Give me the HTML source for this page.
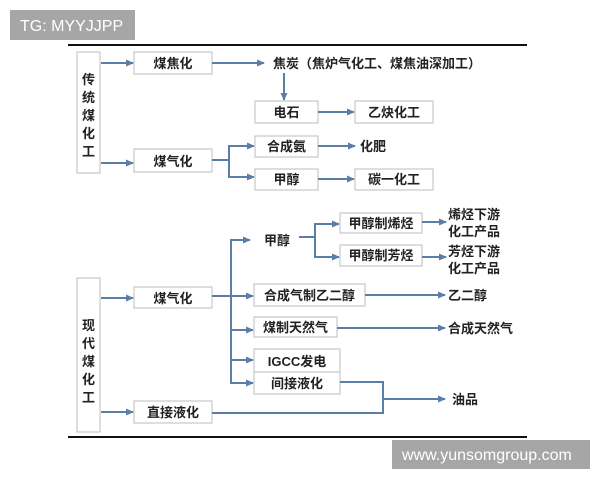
<!DOCTYPE html>
<html><head><meta charset="utf-8"><style>
html,body{margin:0;padding:0;background:#fff;}
svg{display:block;}
text{font-family:"Liberation Sans","Noto Sans CJK SC",sans-serif;font-weight:bold;font-size:13px;fill:#222;}
.b{fill:#fff;stroke:#c8c8c8;stroke-width:1.2;}
.l{stroke:#5a7ea6;stroke-width:2;fill:none;}
</style></head><body>
<svg width="600" height="480" viewBox="0 0 600 480">
<defs><marker id="a" markerWidth="8" markerHeight="8" refX="7" refY="4" orient="auto" markerUnits="userSpaceOnUse"><path d="M0,0.5 L8,4 L0,7.5 z" fill="#5a7ea6"/></marker></defs>
<rect x="10" y="10" width="125" height="30" fill="#a6a6a6"/>
<text x="20" y="31" style="fill:#fff;font-weight:normal;font-size:16px">TG: MYYJJPP</text>
<line x1="68" y1="45" x2="527" y2="45" stroke="#111" stroke-width="2"/>
<line x1="68" y1="437" x2="527" y2="437" stroke="#111" stroke-width="2"/>
<rect x="392" y="440" width="198" height="29" fill="#a6a6a6"/>
<text x="402" y="460" style="fill:#fff;font-weight:normal;font-size:16px">www.yunsomgroup.com</text>

<!-- traditional -->
<rect class="b" x="77" y="52" width="23" height="121"/>
<text x="88.5" y="84" text-anchor="middle">传</text><text x="88.5" y="102" text-anchor="middle">统</text><text x="88.5" y="120" text-anchor="middle">煤</text><text x="88.5" y="138" text-anchor="middle">化</text><text x="88.5" y="156" text-anchor="middle">工</text>
<rect class="b" x="134" y="52" width="78" height="22"/><text x="173" y="68" text-anchor="middle">煤焦化</text>
<line class="l" x1="101" y1="63" x2="133" y2="63" marker-end="url(#a)"/>
<line class="l" x1="212" y1="63" x2="264" y2="63" marker-end="url(#a)"/>
<text x="273" y="68">焦炭（焦炉气化工、煤焦油深加工）</text>
<line class="l" x1="284" y1="73" x2="284" y2="100" marker-end="url(#a)"/>
<rect class="b" x="255" y="101" width="63" height="22"/><text x="286.5" y="117" text-anchor="middle">电石</text>
<line class="l" x1="318" y1="112" x2="354" y2="112" marker-end="url(#a)"/>
<rect class="b" x="355" y="101" width="78" height="22"/><text x="394" y="117" text-anchor="middle">乙炔化工</text>
<rect class="b" x="134" y="149" width="78" height="23"/><text x="173" y="166" text-anchor="middle">煤气化</text>
<line class="l" x1="101" y1="163" x2="133" y2="163" marker-end="url(#a)"/>
<path class="l" d="M212,160 H229 M229,146 V177"/>
<line class="l" x1="228" y1="146" x2="254" y2="146" marker-end="url(#a)"/>
<line class="l" x1="228" y1="177" x2="254" y2="177" marker-end="url(#a)"/>
<rect class="b" x="255" y="136" width="63" height="21"/><text x="286.5" y="151" text-anchor="middle">合成氨</text>
<line class="l" x1="318" y1="146" x2="355" y2="146" marker-end="url(#a)"/>
<text x="360" y="151">化肥</text>
<rect class="b" x="255" y="169" width="63" height="21"/><text x="286.5" y="184" text-anchor="middle">甲醇</text>
<line class="l" x1="318" y1="179" x2="354" y2="179" marker-end="url(#a)"/>
<rect class="b" x="355" y="169" width="78" height="21"/><text x="394" y="184" text-anchor="middle">碳一化工</text>

<!-- modern -->
<rect class="b" x="77" y="278" width="23" height="154"/>
<text x="88.5" y="330" text-anchor="middle">现</text><text x="88.5" y="348" text-anchor="middle">代</text><text x="88.5" y="366" text-anchor="middle">煤</text><text x="88.5" y="384" text-anchor="middle">化</text><text x="88.5" y="402" text-anchor="middle">工</text>
<rect class="b" x="134" y="287" width="78" height="21"/><text x="173" y="303" text-anchor="middle">煤气化</text>
<line class="l" x1="101" y1="298" x2="133" y2="298" marker-end="url(#a)"/>
<rect class="b" x="134" y="401" width="78" height="22"/><text x="173" y="417" text-anchor="middle">直接液化</text>
<line class="l" x1="101" y1="412" x2="133" y2="412" marker-end="url(#a)"/>
<path class="l" d="M212,296 H231 M231,240 V384"/>
<line class="l" x1="230" y1="240" x2="250" y2="240" marker-end="url(#a)"/>
<text x="264" y="245">甲醇</text>
<path class="l" d="M299,237 H315 M315,224 V257"/>
<line class="l" x1="314" y1="224" x2="339" y2="224" marker-end="url(#a)"/>
<line class="l" x1="314" y1="257" x2="339" y2="257" marker-end="url(#a)"/>
<rect class="b" x="340" y="213" width="82" height="20"/><text x="381" y="228" text-anchor="middle">甲醇制烯烃</text>
<rect class="b" x="340" y="245" width="82" height="21"/><text x="381" y="260" text-anchor="middle">甲醇制芳烃</text>
<line class="l" x1="422" y1="222" x2="446" y2="222" marker-end="url(#a)"/>
<line class="l" x1="422" y1="257" x2="446" y2="257" marker-end="url(#a)"/>
<text x="448" y="219">烯烃下游</text><text x="448" y="236">化工产品</text>
<text x="448" y="256">芳烃下游</text><text x="448" y="273">化工产品</text>
<line class="l" x1="230" y1="296" x2="253" y2="296" marker-end="url(#a)"/>
<rect class="b" x="254" y="284" width="111" height="22"/><text x="309.5" y="300" text-anchor="middle">合成气制乙二醇</text>
<line class="l" x1="365" y1="295" x2="445" y2="295" marker-end="url(#a)"/>
<text x="448" y="300">乙二醇</text>
<line class="l" x1="230" y1="330" x2="253" y2="330" marker-end="url(#a)"/>
<rect class="b" x="254" y="317" width="83" height="20"/><text x="295.5" y="332" text-anchor="middle">煤制天然气</text>
<line class="l" x1="337" y1="328" x2="445" y2="328" marker-end="url(#a)"/>
<text x="448" y="333">合成天然气</text>
<line class="l" x1="230" y1="360" x2="253" y2="360" marker-end="url(#a)"/>
<rect class="b" x="254" y="349" width="86" height="23"/><text x="297" y="366" text-anchor="middle">IGCC发电</text>
<line class="l" x1="230" y1="383" x2="253" y2="383" marker-end="url(#a)"/>
<rect class="b" x="254" y="372" width="86" height="22"/><text x="297" y="388" text-anchor="middle">间接液化</text>
<path class="l" d="M340,382 H383 V413 H212"/>
<line class="l" x1="383" y1="399" x2="445" y2="399" marker-end="url(#a)"/>
<text x="452" y="404">油品</text>
</svg>
</body></html>
